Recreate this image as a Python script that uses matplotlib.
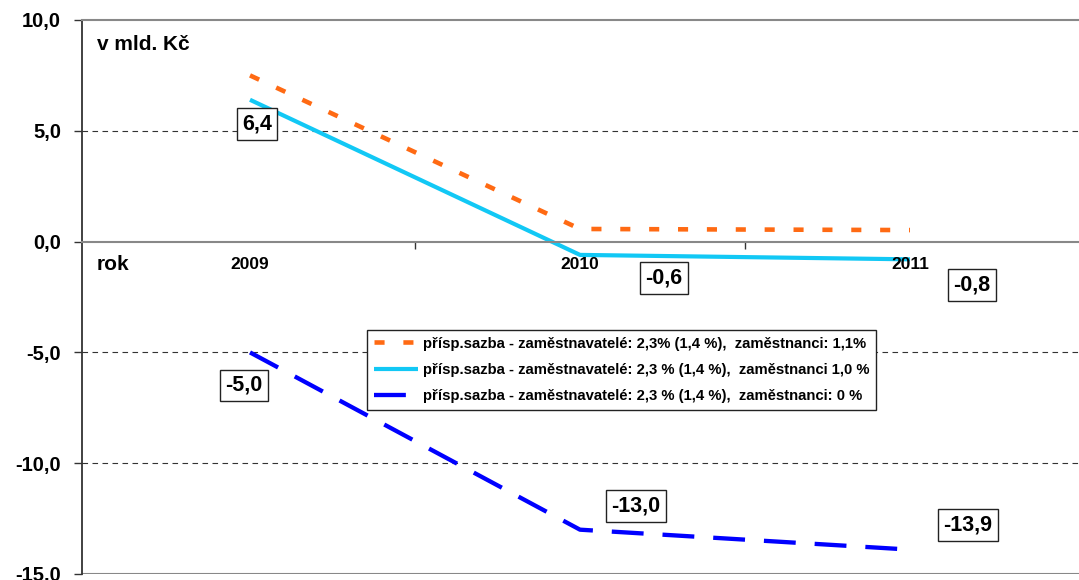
import matplotlib
matplotlib.use("Agg")
import matplotlib.pyplot as plt

plt.rcParams['font.family'] = ['Liberation Sans', 'DejaVu Sans']

years = ['2009', '2010', '2011']
s_orange = [7.5, 0.57, 0.52]
s_cyan = [6.4, -0.6, -0.8]
s_blue = [-5.0, -13.0, -13.9]
label_orange = 'přísp.sazba - zaměstnavatelé: 2,3% (1,4 %),  zaměstnanci: 1,1%'
label_cyan = 'přísp.sazba - zaměstnavatelé: 2,3 % (1,4 %),  zaměstnanci 1,0 %'
label_blue = 'přísp.sazba - zaměstnavatelé: 2,3 % (1,4 %),  zaměstnanci: 0 %'
yticks = [10, 5, 0, -5, -10, -15]
ytick_labels = ['10,0', '5,0', '0,0', '-5,0', '-10,0', '-15,0']

W, H = 1079, 580
fig = plt.figure(figsize=(W / 100, H / 100), dpi=100)
ax = fig.add_axes([82 / W, 6 / H, (W - 82) / W, 554 / H])

x = list(range(len(years)))
c_orange = '#FF6A13'
c_cyan = '#12C8F5'
c_blue = '#0000FF'

l1, = ax.plot(x, s_orange, color=c_orange, lw=3.3, dashes=(2.2, 4.1), dash_capstyle='butt')
l2, = ax.plot(x, s_cyan, color=c_cyan, lw=3.0, solid_capstyle='butt')
l3, = ax.plot(x, s_blue, color=c_blue, lw=3.1, dashes=(7.4, 4.4), dash_capstyle='butt')

ax.set_ylim(-15, 10)
ax.set_xlim((82 - 250) / 330, (W - 250) / 330)

for v in [5, -5, -10]:
    ax.axhline(v, color='#333333', lw=0.8, dashes=(5, 4), zorder=0)
ax.axhline(-15, color='#888888', lw=1.5, zorder=1)

ax.spines['right'].set_visible(False)
ax.spines['top'].set_color('#888888')
ax.spines['top'].set_linewidth(1.5)
ax.spines['left'].set_color('#333333')
ax.spines['left'].set_linewidth(1.3)
ax.spines['bottom'].set_position(('data', 0))
ax.spines['bottom'].set_color('#888888')
ax.spines['bottom'].set_linewidth(1.5)

ax.set_yticks(yticks)
ax.set_yticklabels(ytick_labels, fontsize=14.5, fontweight='bold')
ax.tick_params(axis='y', direction='out', length=6, width=1, color='#333333', pad=9)
ax.set_xticks([0.5, 1.5])
ax.set_xticklabels([])
ax.tick_params(axis='x', direction='out', length=5, width=1, color='#333333')

for i, yr in enumerate(years):
    ax.text(i, -1.05, yr, ha='center', va='center', fontsize=12.5, fontweight='bold')

x_left_text = 15 / 330 + (82 - 250) / 330
ax.text(x_left_text, -1.05, 'rok', ha='left', va='center', fontsize=15, fontweight='bold')
ax.text(x_left_text, 8.9, 'v mld. Kč', ha='left', va='center', fontsize=15, fontweight='bold')

def lab(xi, yv, txt, dx, dy):
    ax.annotate(txt, (xi, yv), xytext=(dx, dy), textcoords='offset pixels',
                ha='center', va='center', fontsize=15.5, fontweight='bold',
                bbox=dict(boxstyle='square,pad=0.25', fc='white', ec='#222222', lw=1))

lab(0, s_cyan[0], '6,4', 7, -24)
lab(1, s_cyan[1], '-0,6', 84, -23)
lab(2, s_cyan[2], '-0,8', 62, -26)
lab(0, s_blue[0], '-5,0', -6, -33)
lab(1, s_blue[1], '-13,0', 56, 24)
lab(2, s_blue[2], '-13,9', 58, 25)

leg = fig.legend([l1, l2, l3], [label_orange, label_cyan, label_blue],
                 loc='upper left', bbox_to_anchor=(367 / W, 1 - 330 / H),
                 borderaxespad=0, fancybox=False, edgecolor='#222222',
                 prop=dict(weight='bold', size=10.7),
                 handlelength=3.0, handletextpad=0.3, labelspacing=0.82,
                 borderpad=0.45, framealpha=1)
leg.get_frame().set_linewidth(1.0)

fig.savefig('out.png', dpi=100)
